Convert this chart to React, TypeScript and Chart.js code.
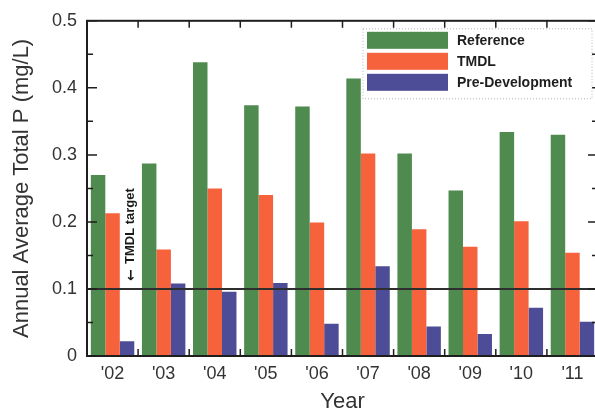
import React, { useEffect, useRef } from 'react';
import Chart from 'chart.js/auto';

const years = ["'02", "'03", "'04", "'05", "'06", "'07", "'08", "'09", "'10", "'11"];
const reference = [0.27, 0.287, 0.438, 0.374, 0.372, 0.414, 0.302, 0.247, 0.334, 0.33];
const tmdl = [0.213, 0.159, 0.25, 0.24, 0.199, 0.302, 0.189, 0.163, 0.201, 0.154];
const preDevelopment = [0.022, 0.108, 0.096, 0.109, 0.048, 0.134, 0.044, 0.033, 0.072, 0.051];
const tmdlTarget = 0.1;
const yTicks = [0, 0.1, 0.2, 0.3, 0.4, 0.5];
const yMinorTicks = [0.05, 0.15, 0.25, 0.35, 0.45];

const FONT = "Arial, 'Liberation Sans', Helvetica, sans-serif";

// frame, inward ticks, target line and the in-plot legend
const decorPlugin = {
  id: 'decor',
  afterDatasetsDraw(chart: any) {
    const { ctx, chartArea: area, scales } = chart;
    const x = scales.x;
    const y = scales.y;
    ctx.save();

    // target line
    const ty = y.getPixelForValue(tmdlTarget);
    ctx.strokeStyle = '#2e2e2e';
    ctx.lineWidth = 2;
    ctx.beginPath();
    ctx.moveTo(area.left, ty);
    ctx.lineTo(area.right, ty);
    ctx.stroke();

    // target label, reading upwards from the line
    ctx.save();
    ctx.translate(x.getPixelForValue(0) + 18, ty - 8);
    ctx.rotate(-Math.PI / 2);
    ctx.fillStyle = '#1a1a1a';
    ctx.textAlign = 'left';
    ctx.textBaseline = 'middle';
    ctx.font = "bold 14px 'DejaVu Sans', sans-serif";
    ctx.fillText('\u2190', 0, 1);
    ctx.font = `bold 13px ${FONT}`;
    ctx.fillText('TMDL target', 17, 0);
    ctx.restore();

    // frame
    ctx.strokeStyle = '#1e1e1e';
    ctx.lineWidth = 2;
    ctx.strokeRect(area.left, area.top, area.right - area.left, area.bottom - area.top);

    // y ticks on both sides
    ctx.lineWidth = 1.5;
    ctx.beginPath();
    yTicks.concat(yMinorTicks).forEach((v) => {
      const len = yTicks.includes(v) ? 10 : 6;
      const py = y.getPixelForValue(v);
      ctx.moveTo(area.left, py);
      ctx.lineTo(area.left + len, py);
      ctx.moveTo(area.right, py);
      ctx.lineTo(area.right - len, py);
    });
    // x ticks at category boundaries, top and bottom
    for (let i = 0; i < years.length - 1; i++) {
      const px = (x.getPixelForValue(i) + x.getPixelForValue(i + 1)) / 2;
      ctx.moveTo(px, area.bottom);
      ctx.lineTo(px, area.bottom - 7);
      ctx.moveTo(px, area.top);
      ctx.lineTo(px, area.top + 7);
    }
    ctx.stroke();

    // legend
    const lx = area.right - 235;
    const ly = area.top + 8;
    ctx.fillStyle = '#ffffff';
    ctx.fillRect(lx, ly, 229, 70);
    ctx.strokeStyle = '#b5b5b5';
    ctx.lineWidth = 1;
    ctx.setLineDash([1, 2]);
    ctx.strokeRect(lx, ly, 229, 70);
    ctx.setLineDash([]);
    chart.data.datasets.forEach((ds: any, i: number) => {
      const sy = ly + 3 + i * 21;
      ctx.fillStyle = ds.backgroundColor;
      ctx.fillRect(lx + 4, sy, 81, 17);
      ctx.fillStyle = '#1e1e1e';
      ctx.font = `bold 14px ${FONT}`;
      ctx.textAlign = 'left';
      ctx.textBaseline = 'middle';
      ctx.fillText(ds.label, lx + 94, sy + 9);
    });

    ctx.restore();
  },
};

const App = () => {
  const canvasRef = useRef<HTMLCanvasElement>(null);
  const chartRef = useRef<Chart | null>(null);

  useEffect(() => {
    if (!canvasRef.current) return;
    if (chartRef.current) chartRef.current.destroy();

    chartRef.current = new Chart(canvasRef.current, {
      type: 'bar',
      data: {
        labels: years,
        datasets: [
          { label: 'Reference', data: reference, backgroundColor: '#4f8a4f' },
          { label: 'TMDL', data: tmdl, backgroundColor: '#f5623c' },
          { label: 'Pre-Development', data: preDevelopment, backgroundColor: '#4d4c96' },
        ],
      },
      options: {
        animation: false,
        responsive: true,
        maintainAspectRatio: false,
        layout: { padding: { top: 19, right: 2, left: 0, bottom: 0 } },
        datasets: { bar: { categoryPercentage: 0.85, barPercentage: 1 } },
        plugins: { legend: { display: false }, tooltip: { enabled: false } },
        scales: {
          x: {
            grid: { display: false, drawTicks: false },
            border: { display: false },
            ticks: { color: '#333', padding: 7, font: { family: FONT, size: 18 } },
            title: {
              display: true,
              text: 'Year',
              color: '#333',
              font: { family: FONT, size: 22, lineHeight: 1 },
              padding: { top: 0, bottom: 0 },
            },
            afterFit: (scale: any) => {
              scale.height = 57;
            },
          },
          y: {
            min: 0,
            max: 0.5,
            grid: { display: false, drawTicks: false },
            border: { display: false },
            ticks: { stepSize: 0.1, color: '#333', padding: 10, font: { family: FONT, size: 18 } },
            title: {
              display: true,
              text: 'Annual Average Total P (mg/L)',
              color: '#333',
              font: { family: FONT, size: 22, lineHeight: 1 },
              padding: { top: 11, bottom: 0 },
            },
            afterFit: (scale: any) => {
              scale.width = 87;
            },
          },
        },
      },
      plugins: [decorPlugin],
    });

    return () => {
      if (chartRef.current) {
        chartRef.current.destroy();
        chartRef.current = null;
      }
    };
  }, []);

  return (
    <div style={{ position: 'fixed', left: 0, top: 0, width: 600, height: 413, background: '#fff' }}>
      <canvas ref={canvasRef}></canvas>
    </div>
  );
};

export default App;
